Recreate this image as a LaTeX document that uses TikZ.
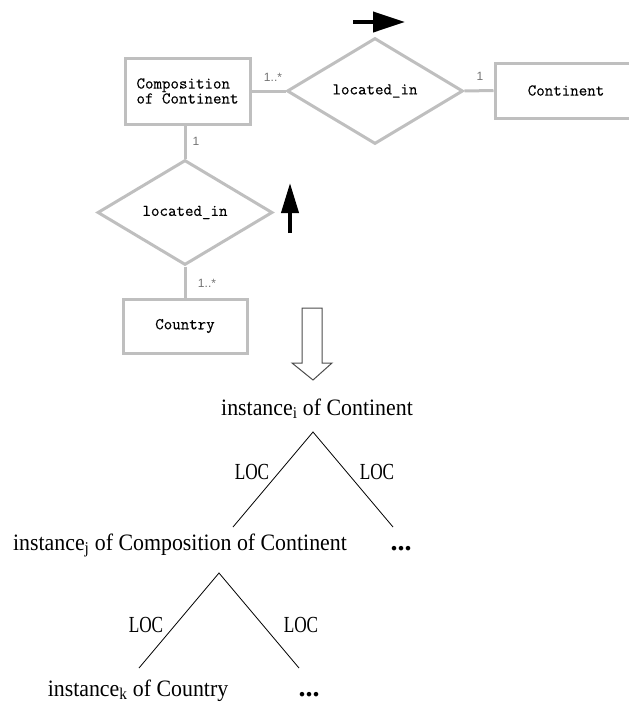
\documentclass[tikz,border=0pt]{standalone}
\usepackage{fontspec}
\setmainfont{Liberation Serif}
\setsansfont{Liberation Sans}
\setmonofont{Latin Modern Mono}[FakeBold=0.35]
\usetikzlibrary{shapes.geometric,arrows.meta}

\begin{document}
\begin{tikzpicture}[x=1pt, y=-1pt,
    erbox/.style={draw=black!25, line width=3pt, fill=white, inner sep=0pt,
        font=\fontsize{16.5}{15}\ttfamily},
    erdia/.style={diamond, draw=black!25, line width=3pt, inner sep=0pt, aspect=1.66,
        minimum width=176pt, minimum height=106pt, font=\fontsize{16.5}{15}\ttfamily},
    erline/.style={draw=black!25, line width=3pt},
    mult/.style={text=black!55, inner sep=0pt, font=\fontsize{12}{12}\sffamily},
    dirarrow/.style={line width=4pt, -{Triangle[length=32pt, width=20pt]}},
    inst/.style={anchor=base, inner sep=0pt, font=\fontsize{23.5}{24}\selectfont},
    rel/.style={inner sep=0pt, font=\fontsize{23}{24}\selectfont},
    dots/.style={anchor=base, inner sep=0pt, font=\fontsize{28}{28}\bfseries}]
    \useasboundingbox (0,0) rectangle (629,702);
    \clip (0,0) rectangle (629,702);

    % ER part
    \node[erbox, minimum width=125pt, minimum height=66pt, align=left] (comp) at (187.5, 91)
        {Composition\\of Continent};
    \node[erdia] (loc1) at (375, 91) {located\_in};
    \node[erbox, minimum width=142pt, minimum height=55pt] (cont) at (566, 90.5) {Continent};
    \node[erdia, minimum width=175pt, minimum height=105pt] (loc2) at (185, 212.5) {located\_in};
    \node[erbox, minimum width=124pt, minimum height=54pt] (ctry) at (185, 326) {Country};

    \draw[erline] (comp.east) -- (loc1.west);
    \draw[erline] (loc1.east) -- (cont.west);
    \draw[erline] (comp.south -| loc2.north) -- (loc2.north);
    \draw[erline] (loc2.south) -- (ctry.north);

    % multiplicities
    \node[mult] (m1) at (273, 77) {1..*};
    \node[mult] (m2) at (480, 76) {1};
    \node[mult] (m3) at (196, 141) {1};
    \node[mult] (m4) at (207, 283) {1..*};

    % reading direction
    \coordinate (ra1) at (353, 22);
    \coordinate (ra2) at (405, 22);
    \draw[dirarrow] (ra1) -- (ra2);
    \coordinate (ua1) at (290, 233);
    \coordinate (ua2) at (290, 183);
    \draw[dirarrow, -{Triangle[length=30pt, width=17pt]}] (ua1) -- (ua2);

    % block arrow
    \draw[black!70, line width=1pt] (302,308) -- (322,308) -- (322,363) -- (332,363)
        -- (313,380) -- (292,363) -- (302,363) -- cycle;

    % instance tree
    \node[inst] (ci) at (317, 415) {\scalebox{0.93}[1]{instance\textsubscript{i} of Continent}};
    \node[inst] (cj) at (180, 550) {\scalebox{0.93}[1]{instance\textsubscript{j} of Composition of Continent}};
    \node[dots] (d1) at (401, 550) {...};
    \node[inst] (ck) at (138, 696) {\scalebox{0.93}[1]{instance\textsubscript{k} of Country}};
    \node[dots] (d2) at (309, 696) {...};

    \coordinate (top1) at (313, 432);
    \coordinate (l1) at (233, 527);
    \coordinate (r1) at (393, 527);
    \draw[line width=0.8pt] (l1) -- (top1) -- (r1);
    \node[rel] (loc1l) at (252, 472) {\scalebox{0.75}[1]{LOC}};
    \node[rel] (loc1r) at (377, 472) {\scalebox{0.75}[1]{LOC}};

    \coordinate (top2) at (219, 573);
    \coordinate (l2) at (139, 668);
    \coordinate (r2) at (299, 668);
    \draw[line width=0.8pt] (l2) -- (top2) -- (r2);
    \node[rel] (loc2l) at (146, 625) {\scalebox{0.75}[1]{LOC}};
    \node[rel] (loc2r) at (301, 625) {\scalebox{0.75}[1]{LOC}};
\end{tikzpicture}
\end{document}
